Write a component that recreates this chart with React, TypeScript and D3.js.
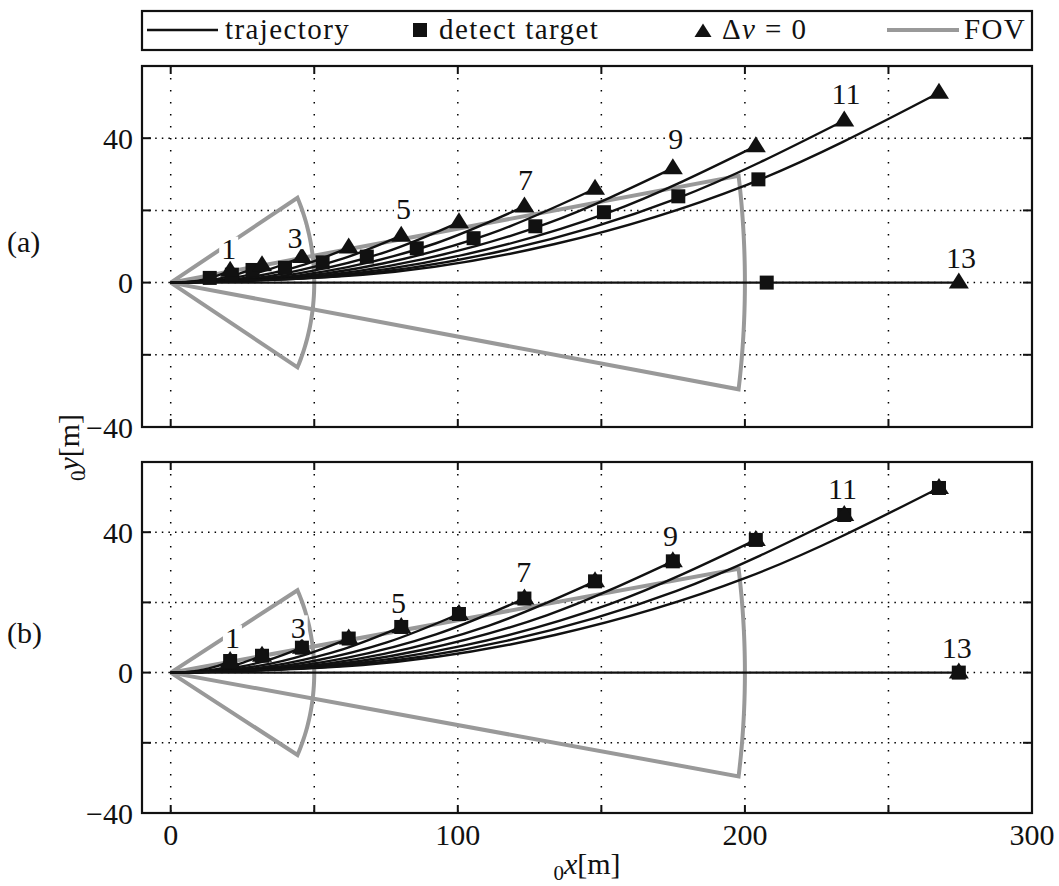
import * as d3 from "d3";

// trajectory points [x, y] in metres (13 = straight run)
const trajectories: [number, number][][] = [
  [[0, 0], [5.2, 0.14], [10.4, 0.67], [15.5, 1.7], [20.7, 3.3]],
  [[0, 0], [8, 0.2], [15.9, 0.97], [23.9, 2.5], [31.8, 4.8]],
  [[0, 0], [11.4, 0.29], [22.9, 1.44], [34.3, 3.66], [45.7, 7.1]],
  [[0, 0], [15.5, 0.4], [31, 1.97], [46.5, 5.0], [62, 9.7]],
  [[0, 0], [20.1, 0.53], [40.2, 2.64], [60.2, 6.7], [80.3, 13]],
  [[0, 0], [25.1, 0.68], [50.2, 3.39], [75.3, 8.6], [100.4, 16.7]],
  [[0, 0], [30.8, 0.87], [61.6, 4.28], [92.4, 10.9], [123.2, 21.1]],
  [[0, 0], [37, 1.07], [73.9, 5.28], [110.9, 13.4], [147.8, 26]],
  [[0, 0], [43.7, 1.3], [87.5, 6.44], [131.2, 16.4], [174.9, 31.7]],
  [[0, 0], [51, 1.55], [101.9, 7.67], [152.9, 19.5], [203.8, 37.8]],
  [[0, 0], [58.7, 1.84], [117.3, 9.11], [176, 23.2], [234.6, 44.9]],
  [[0, 0], [66.9, 2.16], [133.8, 10.7], [200.7, 27.1], [267.6, 52.6]],
  [[0, 0], [274.5, 0]],
];

// where the target was detected in case (a)
const detectA: [number, number][] = [
  [13.6, 1.3], [21.3, 2.2], [28.5, 3.5], [39.8, 4.1], [52.9, 5.6], [68.3, 7.2],
  [85.7, 9.5], [105.5, 12.3], [127, 15.6], [150.9, 19.5], [176.8, 23.9],
  [204.7, 28.6], [207.6, 0],
];

const labelTexts = ["1", "3", "5", "7", "9", "11", "13"];
const labelPosA: [number, number][] = [
  [20.2, 9.4], [43.3, 12.6], [81.1, 20.5], [123.6, 28.5], [175.9, 39.9], [235.2, 52.3], [275.3, 7.0],
];
const labelPosB: [number, number][] = [
  [21.5, 10.1], [44.4, 12.9], [79.3, 20.1], [123, 28.7], [174.1, 39.1], [234, 52.5], [273.8, 7.2],
];

// field of view: range [m] and half opening angle [deg]
const fovRanges = [50, 200];
const fovHalfAngles = [28, 8.5];

const xTicks = [0, 50, 100, 150, 200, 250, 300];
const xTickLabels = [0, 100, 200, 300];
const yTicks = [-40, -20, 0, 20, 40, 60];
const yTickLabels = [-40, 0, 40];
const panelNames = ["(a)", "(b)"];

const FONT = "'Liberation Serif', 'Times New Roman', serif";
const FS = 30;
const GRAY = "#999999";
const INK = "#111";

const x = d3.scaleLinear().domain([-10, 300]).range([142, 1032]);

const lineGen = (y: d3.ScaleLinear<number, number>) =>
  d3
    .line<[number, number]>()
    .x((d) => x(d[0]))
    .y((d) => y(d[1]))
    .curve(d3.curveMonotoneX);

const fovPath = (y: d3.ScaleLinear<number, number>, r: number, halfDeg: number) => {
  const a = (halfDeg * Math.PI) / 180;
  const arc = d3.range(0, 41).map((i) => {
    const t = a - (2 * a * i) / 40;
    return [r * Math.cos(t), r * Math.sin(t)] as [number, number];
  });
  const pts: [number, number][] = [[0, 0], ...arc, [0, 0]];
  return d3
    .line<[number, number]>()
    .x((d) => x(d[0]))
    .y((d) => y(d[1]))(pts);
};

const triangle = (cx: number, cy: number, s = 1) =>
  `M${cx},${cy - 10 * s}L${cx + 10 * s},${cy + 6 * s}L${cx - 10 * s},${cy + 6 * s}Z`;

function Panel({ idx, top, bottom }: { idx: number; top: number; bottom: number }) {
  const y = d3.scaleLinear().domain([-40, 60]).range([bottom, top]);
  const line = lineGen(y);
  const ends = trajectories.map((t) => t[t.length - 1]);
  const squares = idx === 0 ? detectA : ends;
  const labels = idx === 0 ? labelPosA : labelPosB;
  const left = x.range()[0];
  const right = x.range()[1];

  return (
    <g>
      {/* dotted grid */}
      {xTicks.slice(0, -1).map((t) => (
        <line key={"gx" + t} x1={x(t)} x2={x(t)} y1={top} y2={bottom}
          stroke="#000" strokeWidth={1.5} strokeDasharray="1.5,10.5" />
      ))}
      {yTicks.slice(1, -1).map((t) => (
        <line key={"gy" + t} x1={left} x2={right} y1={y(t)} y2={y(t)}
          stroke="#000" strokeWidth={1.5} strokeDasharray="1.5,5.1" />
      ))}

      {fovRanges.map((r, i) => (
        <path key={"fov" + i} d={fovPath(y, r, fovHalfAngles[i]) || ""} fill="none"
          stroke={GRAY} strokeWidth={4} strokeLinejoin="miter" />
      ))}

      {trajectories.map((t, i) => (
        <path key={"tr" + i} d={line(t) || ""} fill="none" stroke={INK} strokeWidth={2.4} />
      ))}

      {squares.map((d, i) => (
        <rect key={"sq" + i} x={x(d[0]) - 7} y={y(d[1]) - 7} width={14} height={14} fill={INK} />
      ))}
      {ends.map((d, i) => (
        <path key={"tri" + i} d={triangle(x(d[0]), y(d[1]))} fill={INK} />
      ))}

      {labels.map((d, i) => {
        const w = labelTexts[i].length * 15 + 4;
        return (
          <g key={"lb" + i}>
            <rect x={x(d[0]) - w / 2} y={y(d[1]) - 12} width={w} height={24} fill="#fff" />
            <text x={x(d[0])} y={y(d[1]) + 10.5} textAnchor="middle" fontSize={FS} fontFamily={FONT} fill={INK}>
              {labelTexts[i]}
            </text>
          </g>
        );
      })}

      {/* ticks, inward */}
      {xTicks.slice(0, -1).map((t) => (
        <g key={"tx" + t}>
          <line x1={x(t)} x2={x(t)} y1={top} y2={top + 8} stroke={INK} strokeWidth={2} />
          <line x1={x(t)} x2={x(t)} y1={bottom} y2={bottom - 8} stroke={INK} strokeWidth={2} />
        </g>
      ))}
      {yTicks.slice(1, -1).map((t) => (
        <g key={"ty" + t}>
          <line x1={left} x2={left + 9} y1={y(t)} y2={y(t)} stroke={INK} strokeWidth={2} />
          <line x1={right} x2={right - 9} y1={y(t)} y2={y(t)} stroke={INK} strokeWidth={2} />
        </g>
      ))}
      <rect x={left} y={top} width={right - left} height={bottom - top} fill="none" stroke={INK} strokeWidth={2.2} />

      {yTickLabels.map((t) => (
        <text key={"yl" + t} x={left - 9} y={y(t) + 10.5} textAnchor="end" fontSize={FS} fontFamily={FONT} fill={INK}>
          {t < 0 ? "\u2212" + Math.abs(t) : t}
        </text>
      ))}
      <text x={7} y={y(11) + 9} fontSize={FS} fontFamily={FONT} fill={INK}>
        {panelNames[idx]}
      </text>
    </g>
  );
}

export default function App() {
  const W = 1059;
  const H = 886;
  const legendY = 30;
  const textStyle = { fontSize: 29, fontFamily: FONT, fill: INK, letterSpacing: 1.4 };

  return (
    <svg width={W} height={H} style={{ position: "absolute", left: 0, top: 0, background: "#fff" }}>
      <rect width={W} height={H} fill="#fff" />

      {/* legend */}
      <rect x={142} y={11} width={890} height={39} fill="#fff" stroke={INK} strokeWidth={2.2} />
      <line x1={147} x2={218} y1={legendY} y2={legendY} stroke={INK} strokeWidth={2.4} />
      <text x={225} y={legendY + 9} {...textStyle}>trajectory</text>
      <rect x={413} y={legendY - 7} width={14} height={14} fill={INK} />
      <text x={439} y={legendY + 9} {...textStyle}>detect target</text>
      <path d={triangle(703, legendY + 2, 0.85)} fill={INK} />
      <text x={722} y={legendY + 9} {...textStyle}>
        Δ<tspan fontStyle="italic">v</tspan> = 0
      </text>
      <line x1={887} x2={959} y1={legendY} y2={legendY} stroke={GRAY} strokeWidth={4} />
      <text x={964} y={legendY + 9} {...textStyle}>FOV</text>

      <Panel idx={0} top={66} bottom={427} />
      <Panel idx={1} top={462} bottom={813} />

      {xTickLabels.map((t) => (
        <text key={"xl" + t} x={x(t)} y={845} textAnchor="middle" fontSize={FS} fontFamily={FONT} fill={INK}>
          {t}
        </text>
      ))}

      <text x={587} y={874} textAnchor="middle" fontSize={FS} fontFamily={FONT} fill={INK}>
        <tspan fontSize={21} dy={6}>0</tspan>
        <tspan fontStyle="italic" dy={-6}>x</tspan>
        <tspan>[m]</tspan>
      </text>
      <text transform={`translate(79,${(427 + 462) / 2 + 3}) rotate(-90)`} textAnchor="middle"
        fontSize={FS} fontFamily={FONT} fill={INK}>
        <tspan fontSize={21} dy={6}>0</tspan>
        <tspan fontStyle="italic" dy={-6}>y</tspan>
        <tspan>[m]</tspan>
      </text>
    </svg>
  );
}
